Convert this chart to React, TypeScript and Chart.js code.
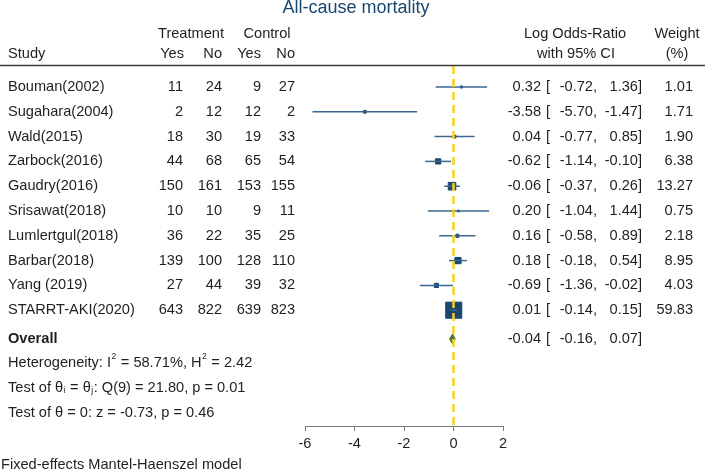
import React, { useEffect, useRef } from 'react';
import { Chart, registerables } from 'chart.js';

Chart.register(...registerables);

// ---------------- data ----------------
const TITLE = 'All-cause mortality';
const studies = [
  'Bouman(2002)', 'Sugahara(2004)', 'Wald(2015)', 'Zarbock(2016)', 'Gaudry(2016)',
  'Srisawat(2018)', 'Lumlertgul(2018)', 'Barbar(2018)', 'Yang (2019)', 'STARRT-AKI(2020)',
];
const treatYes = [11, 2, 18, 44, 150, 10, 36, 139, 27, 643];
const treatNo = [24, 12, 30, 68, 161, 10, 22, 100, 44, 822];
const ctrlYes = [9, 12, 19, 65, 153, 9, 35, 128, 39, 639];
const ctrlNo = [27, 2, 33, 54, 155, 11, 25, 110, 32, 823];
const logOR = [0.32, -3.58, 0.04, -0.62, -0.06, 0.2, 0.16, 0.18, -0.69, 0.01];
const ciLow = [-0.72, -5.7, -0.77, -1.14, -0.37, -1.04, -0.58, -0.18, -1.36, -0.14];
const ciHigh = [1.36, -1.47, 0.85, -0.1, 0.26, 1.44, 0.89, 0.54, -0.02, 0.15];
const weights = [1.01, 1.71, 1.9, 6.38, 13.27, 0.75, 2.18, 8.95, 4.03, 59.83];
const overallEst = -0.04;
const overallLow = -0.16;
const overallHigh = 0.07;
const xTicks = [-6, -4, -2, 0, 2];
// segments: [text, 'n' | 'sup' | 'sub']
const statLines: [string, string][][] = [
  [['Heterogeneity: I', 'n'], ['2', 'sup'], [' = 58.71%, H', 'n'], ['2', 'sup'], [' = 2.42', 'n']],
  [['Test of \u03B8', 'n'], ['i', 'sub'], [' = \u03B8', 'n'], ['j', 'sub'], [': Q(9) = 21.80, p = 0.01', 'n']],
  [['Test of \u03B8 = 0: z = -0.73, p = 0.46', 'n']],
];
const footnote = 'Fixed-effects Mantel-Haenszel model';

// ---------------- layout / style ----------------
const W = 708;
const H = 472;
const ROW0 = 87;
const STEP = 24.8;
const PLOT_TOP = 66;
const PLOT_BOTTOM = 426;
const Y_MIN = (PLOT_TOP - ROW0) / STEP;
const Y_MAX = (PLOT_BOTTOM - ROW0) / STEP;
const OVERALL_ROW = 10.16;
const STAT_ROWS = [11.13, 12.13, 13.13];
const FONT = '"Liberation Sans", Arial, Helvetica, sans-serif';
const FS = 14.6;
const TXT = '#1f1f1f';
const NAVY = '#1a476f';
const CI_COLOR = '#3d6790';
const GOLD = '#f9d21e';
const GREEN = '#56752f';

const fmt = (v: number) => v.toFixed(2);

const textPlugin = {
  id: 'forestText',
  afterDraw(chart: any) {
    const ctx: CanvasRenderingContext2D = chart.ctx;
    const ys = chart.scales.y;
    ctx.save();
    ctx.textBaseline = 'middle';

    // title
    ctx.fillStyle = NAVY;
    ctx.font = `18px ${FONT}`;
    ctx.textAlign = 'center';
    ctx.fillText(TITLE, 356, 8.5);

    // header
    ctx.fillStyle = TXT;
    ctx.font = `${FS}px ${FONT}`;
    ctx.textAlign = 'center';
    ctx.fillText('Treatment', 191, 34);
    ctx.fillText('Control', 267, 34);
    ctx.fillText('Log Odds-Ratio', 575, 34);
    ctx.fillText('with 95% CI', 576, 54);
    ctx.fillText('Weight', 677, 34);
    ctx.fillText('(%)', 677, 54);
    ctx.textAlign = 'left';
    ctx.fillText('Study', 8, 54);
    ctx.textAlign = 'right';
    ctx.fillText('Yes', 184, 54);
    ctx.fillText('No', 222, 54);
    ctx.fillText('Yes', 261, 54);
    ctx.fillText('No', 295, 54);

    // header rule
    ctx.strokeStyle = '#3a3a3a';
    ctx.lineWidth = 1.5;
    ctx.beginPath();
    ctx.moveTo(0, 65.5);
    ctx.lineTo(705, 65.5);
    ctx.stroke();

    // study rows
    studies.forEach((name, i) => {
      const y = ys.getPixelForValue(i);
      ctx.textAlign = 'left';
      ctx.fillText(name, 8, y);
      ctx.textAlign = 'right';
      ctx.fillText(String(treatYes[i]), 183, y);
      ctx.fillText(String(treatNo[i]), 222, y);
      ctx.fillText(String(ctrlYes[i]), 261, y);
      ctx.fillText(String(ctrlNo[i]), 295, y);
      ctx.fillText(fmt(logOR[i]), 541, y);
      ctx.textAlign = 'left';
      ctx.fillText('[', 546, y);
      ctx.textAlign = 'right';
      ctx.fillText(fmt(ciLow[i]) + ',', 597, y);
      ctx.fillText(fmt(ciHigh[i]) + ']', 642, y);
      ctx.fillText(fmt(weights[i]), 693, y);
    });

    // overall
    const yo = ys.getPixelForValue(OVERALL_ROW);
    ctx.textAlign = 'left';
    ctx.font = `bold ${FS}px ${FONT}`;
    ctx.fillText('Overall', 8, yo);
    ctx.font = `${FS}px ${FONT}`;
    ctx.textAlign = 'right';
    ctx.fillText(fmt(overallEst), 541, yo);
    ctx.textAlign = 'left';
    ctx.fillText('[', 546, yo);
    ctx.textAlign = 'right';
    ctx.fillText(fmt(overallLow) + ',', 597, yo);
    ctx.fillText(fmt(overallHigh) + ']', 642, yo);

    // stats with super/subscripts
    ctx.textAlign = 'left';
    statLines.forEach((segs, k) => {
      const y = ys.getPixelForValue(STAT_ROWS[k]);
      let x = 8;
      segs.forEach(([t, kind]) => {
        if (kind === 'n') {
          ctx.font = `${FS}px ${FONT}`;
          ctx.fillText(t, x, y);
          x += ctx.measureText(t).width;
        } else {
          ctx.font = `8.5px ${FONT}`;
          const dy = kind === 'sup' ? -6 : 3;
          ctx.fillText(t, x + 0.5, y + dy);
          x += ctx.measureText(t).width + 1;
        }
      });
    });
    ctx.font = `${FS}px ${FONT}`;
    ctx.fillText(footnote, 1, 465);
    ctx.restore();
  },
};

export default function App() {
  const ref = useRef<HTMLCanvasElement>(null);

  useEffect(() => {
    if (!ref.current) return;
    const ciSets = studies.map((_, i) => ({
      type: 'scatter' as const,
      showLine: true,
      data: [
        { x: ciLow[i], y: i },
        { x: ciHigh[i], y: i },
      ],
      borderColor: CI_COLOR,
      borderWidth: 1.5,
      pointRadius: 0,
      order: 1,
    }));
    const diamondHalf = 0.2;
    const chart = new Chart(ref.current, {
      type: 'scatter',
      data: {
        datasets: [
          {
            data: [
              { x: 0, y: Y_MIN },
              { x: 0, y: Y_MAX },
            ],
            showLine: true,
            borderColor: GOLD,
            borderWidth: 2.5,
            borderDash: [8, 5],
            pointRadius: 0,
            order: 0,
          } as any,
          ...ciSets,
          {
            data: logOR.map((v, i) => ({ x: v, y: i })),
            pointStyle: 'rect',
            pointRadius: weights.map((w) => (2.08 * Math.sqrt(w)) / Math.SQRT2),
            backgroundColor: NAVY,
            borderColor: NAVY,
            borderWidth: 1,
            order: 2,
          } as any,
          {
            data: [
              { x: overallLow, y: OVERALL_ROW },
              { x: overallEst, y: OVERALL_ROW - diamondHalf },
              { x: overallHigh, y: OVERALL_ROW },
              { x: overallEst, y: OVERALL_ROW + diamondHalf },
              { x: overallLow, y: OVERALL_ROW },
            ],
            showLine: true,
            fill: 'shape',
            backgroundColor: GREEN,
            borderColor: GREEN,
            borderWidth: 1,
            pointRadius: 0,
            order: 1,
          } as any,
        ],
      },
      options: {
        responsive: false,
        animation: false,
        events: [],
        layout: { padding: { left: 305, right: W - 503, top: PLOT_TOP, bottom: 22 } },
        elements: { line: { tension: 0 } },
        plugins: { legend: { display: false }, tooltip: { enabled: false }, title: { display: false } },
        scales: {
          x: {
            type: 'linear',
            min: xTicks[0],
            max: xTicks[xTicks.length - 1],
            afterBuildTicks: (scale: any) => {
              scale.ticks = xTicks.map((v) => ({ value: v }));
            },
            afterFit: (scale: any) => {
              scale.height = 24;
            },
            ticks: {
              font: { family: FONT, size: FS },
              color: TXT,
              padding: 4,
              callback: (v: any) => String(v),
            },
            grid: { drawOnChartArea: false, drawTicks: true, tickLength: 5, color: '#7a7a7a', lineWidth: 1 },
            border: { display: true, color: '#7a7a7a', width: 1 },
          },
          y: {
            type: 'linear',
            display: false,
            reverse: true,
            min: Y_MIN,
            max: Y_MAX,
          },
        },
      },
      plugins: [textPlugin],
    } as any);
    return () => chart.destroy();
  }, []);

  return (
    <div style={{ position: 'absolute', left: 0, top: 0, width: W, height: H, background: '#fff' }}>
      <canvas ref={ref} width={W} height={H} style={{ display: 'block', width: W, height: H }} />
    </div>
  );
}
